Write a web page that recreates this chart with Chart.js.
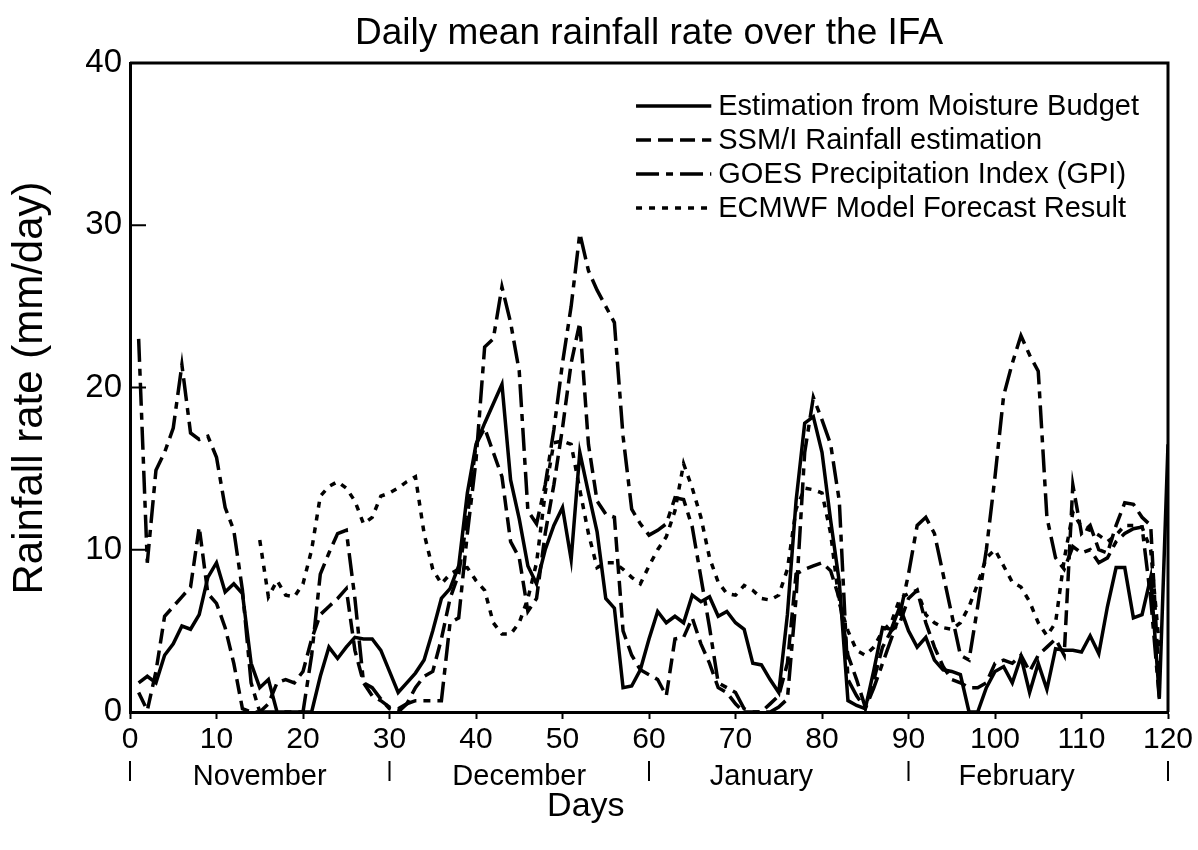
<!DOCTYPE html>
<html>
<head>
<meta charset="utf-8">
<script src="https://cdn.jsdelivr.net/npm/chart.js@4.4.1/dist/chart.umd.min.js"></script>
<style>
  html, body { margin: 0; padding: 0; background: #fff; }
  #wrap { width: 1198px; height: 850px; position: relative; }
</style>
</head>
<body>
<div id="wrap"><canvas id="c" width="1198" height="850"></canvas></div>
<script>
// ---- Data ----
const days = [1,2,3,4,5,6,7,8,9,10,11,12,13,14,15,16,17,18,19,20,21,22,23,24,25,26,27,28,29,30,
  31,32,33,34,35,36,37,38,39,40,41,42,43,44,45,46,47,48,49,50,51,52,53,54,55,56,57,58,59,60,
  61,62,63,64,65,66,67,68,69,70,71,72,73,74,75,76,77,78,79,80,81,82,83,84,85,86,87,88,89,90,
  91,92,93,94,95,96,97,98,99,100,101,102,103,104,105,106,107,108,109,110,111,112,113,114,115,116,117,118,119,120];

const moistureBudget = [1.8,2.2,1.8,3.5,4.2,5.3,5.1,6.0,8.3,9.2, 7.4,7.9,7.3,3.0,1.5,2.0,0,0,0,0,
  0,2.2,4.0,3.3,4.0,4.6,4.5,4.5,3.8,2.5, 1.2,1.8,2.4,3.2,5.0,7.0,7.6,9.0,13.5,16.5,
  17.8,19.0,20.2,14.3,11.9,9.0,7.9,10.0,11.5,12.6, 9.4,16.0,13.5,11.1,7.0,6.4,1.5,1.6,2.6,4.5,
  6.2,5.5,5.9,5.5,7.2,6.8,7.1,5.9,6.2,5.5, 5.1,3.0,2.9,2.0,1.2,6.0,13.0,17.8,18.2,16.0,
  11.8,8.0,0.7,0.4,0.2,2.6,5.2,5.1,6.5,5.0, 4.0,4.6,3.2,2.6,2.5,2.3,0,0,1.5,2.5,
  2.8,1.8,3.4,1.2,3.0,1.4,3.9,3.8,3.8,3.7, 4.7,3.6,6.5,8.9,8.9,5.8,6.0,8.3,0.9,16.5];

const ssmi = [1.2,0.1,2.5,5.9,6.5,7.1,7.7,11.4,7.3,6.7, 5.2,3.0,0.2,0,0,0.5,1.8,2.0,1.8,2.5,
  4.5,6.0,6.5,7.0,7.6,3.8,1.8,1.0,0.7,0.3, 0.2,0.5,1.5,2.2,2.5,4.5,7.0,8.5,12.0,16.5,
  17.5,16.0,14.5,10.5,9.5,6.2,7.0,11.0,14.0,17.5, 21.5,24.0,16.5,13.0,12.2,12.0,5.0,3.5,2.6,2.3,
  2.0,1.0,4.5,4.6,5.8,4.2,3.0,1.5,1.2,0.5, 0,0,0,0.5,1.0,3.0,8.5,8.8,9.0,9.2,
  8.7,7.0,3.5,2.0,0.3,2.0,4.0,5.0,5.5,7.0, 7.5,5.5,4.0,2.8,2.0,1.8,1.5,1.5,1.8,3.0,
  3.2,3.0,3.5,2.5,3.5,4.0,4.5,3.5,14.0,11.0, 11.5,10.0,9.8,11.5,12.9,12.8,12.0,11.5,1.5,null];

const gpi = [23.0,9.2,14.9,16.0,17.5,21.4,17.2,16.8,17.0,15.7, 12.6,11.2,7.5,1.8,0,0,0,0,0,0,
  3.5,8.5,9.8,11.0,11.2,7.0,1.8,1.5,0.8,0.2, 0,0.5,0.7,0.7,0.7,0.7,5.5,5.8,11.0,15.5,
  22.5,23.0,26.2,24.0,21.0,12.4,11.6,14.0,17.4,21.5, 25.0,29.5,27.2,26.0,25.0,24.0,17.0,12.5,11.6,10.9,
  11.2,11.6,13.2,13.1,11.4,8.3,5.2,1.8,1.5,1.2, 0.2,0,0,0,0.3,0.8,7.0,16.0,19.4,18.0,
  16.5,13.0,2.0,1.0,0.2,1.5,3.0,4.5,6.0,8.5, 11.5,12.0,11.0,8.5,6.0,3.5,3.2,6.5,10.0,14.5,
  19.5,21.5,23.2,22.0,21.0,12.0,9.5,8.8,10.2,9.8, 10.0,9.2,9.5,10.5,11.0,11.3,11.4,7.0,0.8,null];

const ecmwf = [null,null,null,null,null,null,null,null,null,null, null,null,null,null,10.6,7.1,8.1,7.2,7.1,7.9,
  10.0,13.3,13.9,14.2,13.8,13.0,11.6,12.0,13.3,13.5, 13.8,14.2,14.5,11.0,8.8,7.9,8.5,8.8,8.9,8.1,
  7.5,5.5,4.8,4.8,5.5,7.0,9.2,13.5,16.6,16.7, 16.5,13.7,11.0,8.9,9.2,9.2,8.8,8.3,7.9,9.0,
  10.0,10.8,12.4,15.3,13.8,12.0,9.5,8.0,7.3,7.2, 7.8,7.5,7.0,6.9,7.2,8.8,12.5,13.8,13.7,13.5,
  11.0,6.7,5.0,3.8,3.5,4.0,5.0,5.5,7.0,7.3, 7.5,6.0,5.5,5.2,5.1,5.5,6.5,7.9,9.5,10.0,
  9.0,8.0,7.7,6.8,5.5,4.7,5.5,9.4,12.3,11.4, 11.2,10.9,10.5,10.9,11.5,11.5,11.4,10.0,4.0,null];

const seriesNames = ["Estimation from Moisture Budget", "SSM/I Rainfall estimation",
  "GOES Precipitation Index (GPI)", "ECMWF Model Forecast Result"];
const yTicks = [0, 10, 20, 30, 40];
const xTicks = [0, 10, 20, 30, 40, 50, 60, 70, 80, 90, 100, 110, 120];
const months = ["November", "December", "January", "February"];
const monthCenters = [15, 45, 73, 102.5];
const monthBounds = [0, 30, 60, 90, 120];
const titleText = "Daily mean rainfall rate over the IFA";
const yTitle = "Rainfall rate (mm/day)";
const xTitle = "Days";

// ---- Styles ----
const FONT = "'Liberation Sans', Arial, Helvetica, sans-serif";
const dashes = [[], [15, 7], [23, 7, 7, 7], [6, 7]];
const LW = 3.5;

function pts(vals) { return days.map((d, i) => ({ x: d, y: vals[i] })); }

const allSeries = [moistureBudget, ssmi, gpi, ecmwf];
const datasets = allSeries.map((vals, i) => ({
  label: seriesNames[i],
  data: pts(vals),
  borderColor: '#000',
  borderWidth: LW,
  borderDash: dashes[i],
  pointRadius: 0,
  tension: 0,
  fill: false,
  spanGaps: false,
  borderCapStyle: 'butt',
  borderJoinStyle: 'miter'
}));

const decor = {
  id: 'decor',
  afterDraw(chart) {
    const ctx = chart.ctx;
    const ca = chart.chartArea;
    const xs = chart.scales.x, ys = chart.scales.y;
    ctx.save();
    // frame (top & right)
    ctx.strokeStyle = '#000';
    ctx.lineWidth = 3;
    ctx.beginPath();
    ctx.moveTo(ca.left, ca.top); ctx.lineTo(ca.right, ca.top); ctx.lineTo(ca.right, ca.bottom);
    ctx.stroke();
    // inward y ticks
    ctx.lineWidth = 2;
    yTicks.forEach(v => {
      const y = ys.getPixelForValue(v);
      ctx.beginPath(); ctx.moveTo(ca.left, y); ctx.lineTo(ca.left + 16, y); ctx.stroke();
    });
    // month boundaries
    monthBounds.forEach(d => {
      const x = xs.getPixelForValue(d);
      ctx.beginPath(); ctx.moveTo(x, 761); ctx.lineTo(x, 781); ctx.stroke();
    });
    ctx.fillStyle = '#000';
    // month names
    ctx.font = '29px ' + FONT;
    ctx.textAlign = 'center'; ctx.textBaseline = 'middle';
    months.forEach((m, i) => ctx.fillText(m, xs.getPixelForValue(monthCenters[i]), 777));
    // Days
    ctx.font = '34px ' + FONT;
    ctx.fillText(xTitle, xs.getPixelForValue(52.7), 807);
    // title
    ctx.font = '37px ' + FONT;
    ctx.fillText(titleText, (ca.left + ca.right) / 2, 34);
    // y title
    ctx.save();
    ctx.translate(30, 388);
    ctx.rotate(-Math.PI / 2);
    ctx.font = '42px ' + FONT;
    ctx.fillText(yTitle, 0, 0);
    ctx.restore();
    // legend
    const lx0 = xs.getPixelForValue(58.5), lx1 = xs.getPixelForValue(67.2);
    const rows = [106, 140, 174, 208];
    ctx.font = '29px ' + FONT;
    ctx.textAlign = 'left';
    rows.forEach((y, i) => {
      ctx.setLineDash(dashes[i]);
      ctx.lineWidth = LW;
      ctx.beginPath(); ctx.moveTo(lx0, y); ctx.lineTo(lx1, y); ctx.stroke();
      ctx.setLineDash([]);
      ctx.fillText(seriesNames[i], lx1 + 7, y + 1);
    });
    ctx.restore();
  }
};

new Chart(document.getElementById('c'), {
  type: 'line',
  data: { datasets },
  options: {
    responsive: false,
    animation: false,
    events: [],
    layout: { padding: { top: 63, right: 30, left: 0, bottom: 0 } },
    plugins: { legend: { display: false }, title: { display: false }, tooltip: { enabled: false } },
    scales: {
      x: {
        type: 'linear', min: 0, max: 120,
        afterBuildTicks: s => { s.ticks = xTicks.map(v => ({ value: v })); },
        afterFit: s => { s.height = 138; },
        grid: { drawOnChartArea: false, drawTicks: true, tickLength: 7, tickWidth: 2, tickColor: '#000' },
        border: { display: true, color: '#000', width: 3 },
        ticks: { color: '#000', font: { family: FONT, size: 30 }, padding: 3, maxRotation: 0, autoSkip: false }
      },
      y: {
        type: 'linear', min: 0, max: 40,
        afterBuildTicks: s => { s.ticks = yTicks.map(v => ({ value: v })); },
        afterFit: s => { s.width = 130; },
        grid: { display: false, drawTicks: false },
        border: { display: true, color: '#000', width: 3 },
        ticks: { color: '#000', font: { family: FONT, size: 33 }, padding: 8 }
      }
    }
  },
  plugins: [decor]
});
</script>
</body>
</html>
